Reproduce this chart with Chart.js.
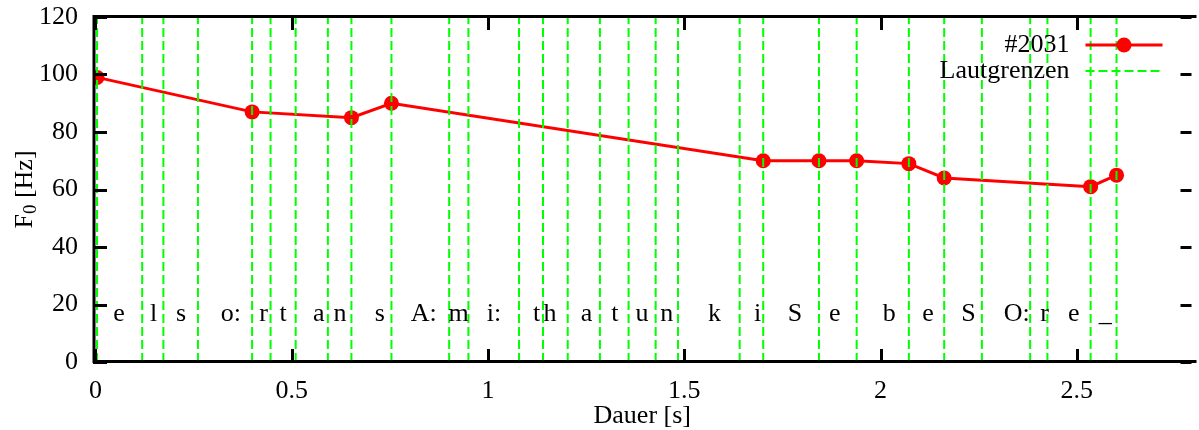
<!DOCTYPE html>
<html>
<head>
<meta charset="utf-8">
<script src="https://cdn.jsdelivr.net/npm/chart.js@4.4.1/dist/chart.umd.min.js"></script>
<style>
html,body{margin:0;padding:0;background:#fff;overflow:hidden}
#wrap{width:1199px;height:430px;position:relative}
</style>
</head>
<body>
<div id="wrap"><canvas id="c" width="1199" height="430"></canvas></div>
<script>
// ---- data ----
const seriesLabel = '#2031';
const boundaryLabel = 'Lautgrenzen';
const xTitle = 'Dauer [s]';
const timeValues = [0.004, 0.399, 0.652, 0.754, 1.701, 1.843, 1.939, 2.072, 2.162, 2.535, 2.601];
const f0Values   = [99, 87, 85, 90, 70, 70, 70, 69, 64, 61, 65];
const boundaries = [0.004, 0.119, 0.173, 0.261, 0.399, 0.446, 0.510, 0.592, 0.652, 0.754,
                    0.901, 0.950, 1.079, 1.140, 1.203, 1.285, 1.358, 1.427, 1.484, 1.641,
                    1.701, 1.843, 1.939, 2.072, 2.162, 2.258, 2.381, 2.425, 2.535, 2.601];
const phonemes = ['e','l','s','o:','r','t','a','n','s','A:','m','i:','t','h','a','t','u','n',
                  'k','i','S','e','b','e','S','O:','r','e','_'];
const phonemePositions = [0.060, 0.148, 0.218, 0.345, 0.428, 0.478, 0.569, 0.623, 0.724, 0.836,
                          0.925, 1.015, 1.124, 1.158, 1.251, 1.323, 1.392, 1.455, 1.577, 1.687,
                          1.782, 1.883, 2.022, 2.121, 2.224, 2.347, 2.418, 2.492, 2.572];
const phonemeLevel = 20;
const xTicks = [0, 0.5, 1, 1.5, 2, 2.5];
const yTicks = [0, 20, 40, 60, 80, 100, 120];
const xMin = -0.0063, xMax = 2.792;
const yMin = 0, yMax = 120;

// ---- styling ----
const FONT = "'Liberation Serif', 'Times New Roman', serif";
const FS = 26;
const RED = '#ff0000';
const GREEN = '#00ff00';

const seriesData = timeValues.map((t, i) => ({x: t, y: f0Values[i]}));
const boundaryData = [];
boundaries.forEach(b => {
  boundaryData.push({x: b, y: yMin}, {x: b, y: yMax}, {x: b, y: null});
});

const deco = {
  id: 'deco',
  afterDatasetsDraw(chart) {
    const {ctx, chartArea: a, scales: {x, y}} = chart;
    ctx.save();
    // phoneme labels
    ctx.font = FS + 'px ' + FONT;
    ctx.fillStyle = '#000';
    ctx.textAlign = 'center';
    ctx.textBaseline = 'alphabetic';
    phonemes.forEach((p, i) => {
      ctx.fillText(p, x.getPixelForValue(phonemePositions[i]), y.getPixelForValue(phonemeLevel) + 16);
    });
    // border (left, top, bottom)
    ctx.strokeStyle = '#000';
    ctx.lineWidth = 3;
    ctx.lineCap = 'butt';
    ctx.beginPath();
    ctx.moveTo(a.right + 5, a.top - 0.5);
    ctx.lineTo(a.left + 1, a.top - 0.5);
    ctx.lineTo(a.left + 1, a.bottom - 0.5);
    ctx.lineTo(a.right + 5, a.bottom - 0.5);
    ctx.stroke();
    // inward ticks
    ctx.beginPath();
    xTicks.forEach(v => {
      const px = Math.round(x.getPixelForValue(v)) + 0.5;
      ctx.moveTo(px, a.bottom); ctx.lineTo(px, a.bottom - 13);
      ctx.moveTo(px, a.top); ctx.lineTo(px, a.top + 13);
    });
    yTicks.forEach(v => {
      const py = Math.round(y.getPixelForValue(v)) + 0.5;
      ctx.moveTo(a.left, py); ctx.lineTo(a.left + 14, py);
      ctx.moveTo(a.right, py); ctx.lineTo(a.right - 11, py);
    });
    ctx.stroke();
    // legend
    const textRight = a.right - 122;
    const s0 = a.right - 106, s1 = a.right - 29;
    const ly1 = a.top + 28, ly2 = a.top + 54;
    ctx.font = FS + 'px ' + FONT;
    ctx.textAlign = 'right';
    ctx.textBaseline = 'middle';
    ctx.fillStyle = '#000';
    ctx.fillText(chart.data.datasets[1].label, textRight, ly1);
    ctx.fillText(chart.data.datasets[0].label, textRight, ly2);
    ctx.strokeStyle = RED; ctx.lineWidth = 3;
    ctx.beginPath(); ctx.moveTo(s0, ly1); ctx.lineTo(s1, ly1); ctx.stroke();
    ctx.fillStyle = RED;
    ctx.beginPath(); ctx.arc((s0 + s1) / 2, ly1, 7.5, 0, Math.PI * 2); ctx.fill();
    ctx.strokeStyle = GREEN; ctx.lineWidth = 2; ctx.setLineDash([9, 4]);
    ctx.beginPath(); ctx.moveTo(s0, ly2); ctx.lineTo(s1, ly2); ctx.stroke();
    ctx.setLineDash([]);
    // y title with subscript
    ctx.translate(25, (a.top + a.bottom) / 2);
    ctx.rotate(-Math.PI / 2);
    ctx.fillStyle = '#000';
    ctx.textAlign = 'left';
    ctx.textBaseline = 'middle';
    ctx.font = FS + 'px ' + FONT;
    const wF = ctx.measureText('F').width;
    const wR = ctx.measureText(' [Hz]').width;
    ctx.font = '19px ' + FONT;
    const w0 = ctx.measureText('0').width;
    const start = -(wF + w0 + wR) / 2;
    ctx.font = FS + 'px ' + FONT;
    ctx.fillText('F', start, 0);
    ctx.font = '19px ' + FONT;
    ctx.fillText('0', start + wF, 6);
    ctx.font = FS + 'px ' + FONT;
    ctx.fillText(' [Hz]', start + wF + w0, 0);
    ctx.restore();
  }
};

new Chart(document.getElementById('c'), {
  type: 'line',
  data: {
    datasets: [
      {
        label: boundaryLabel,
        data: boundaryData,
        borderColor: GREEN,
        borderWidth: 2,
        borderDash: [9, 4],
        pointRadius: 0,
        pointHoverRadius: 0,
        spanGaps: false,
        fill: false,
        order: 0
      },
      {
        label: seriesLabel,
        data: seriesData,
        borderColor: RED,
        backgroundColor: RED,
        borderWidth: 3,
        pointRadius: 7.5,
        pointHoverRadius: 7.5,
        pointBorderWidth: 0,
        pointBackgroundColor: RED,
        tension: 0,
        fill: false,
        order: 1
      }
    ]
  },
  options: {
    responsive: false,
    animation: false,
    devicePixelRatio: 1,
    layout: {padding: {top: 17, left: 0, right: 0, bottom: 0}},
    plugins: {legend: {display: false}, tooltip: {enabled: false}},
    events: [],
    scales: {
      x: {
        type: 'linear',
        min: xMin,
        max: xMax,
        afterBuildTicks: s => { s.ticks = xTicks.map(v => ({value: v})); },
        afterFit: s => { s.height = 68; s.paddingLeft = 0; s.paddingRight = 0; },
        grid: {display: false, drawTicks: false},
        border: {display: false},
        ticks: {
          color: '#000',
          font: {family: FONT, size: FS},
          padding: 14,
          maxRotation: 0,
          autoSkip: false,
          callback: v => String(v)
        },
        title: {
          display: true,
          text: xTitle,
          color: '#000',
          font: {family: FONT, size: FS, lineHeight: 1.1},
          padding: {top: 0, bottom: 0}
        }
      },
      y: {
        type: 'linear',
        min: yMin,
        max: yMax,
        afterBuildTicks: s => { s.ticks = yTicks.map(v => ({value: v})); },
        afterFit: s => { s.width = 93; s.paddingTop = 0; s.paddingBottom = 0; },
        grid: {display: false, drawTicks: false},
        border: {display: false},
        ticks: {
          color: '#000',
          font: {family: FONT, size: FS},
          padding: 15,
          callback: v => String(v)
        }
      }
    }
  },
  plugins: [deco]
});
</script>
</body>
</html>
